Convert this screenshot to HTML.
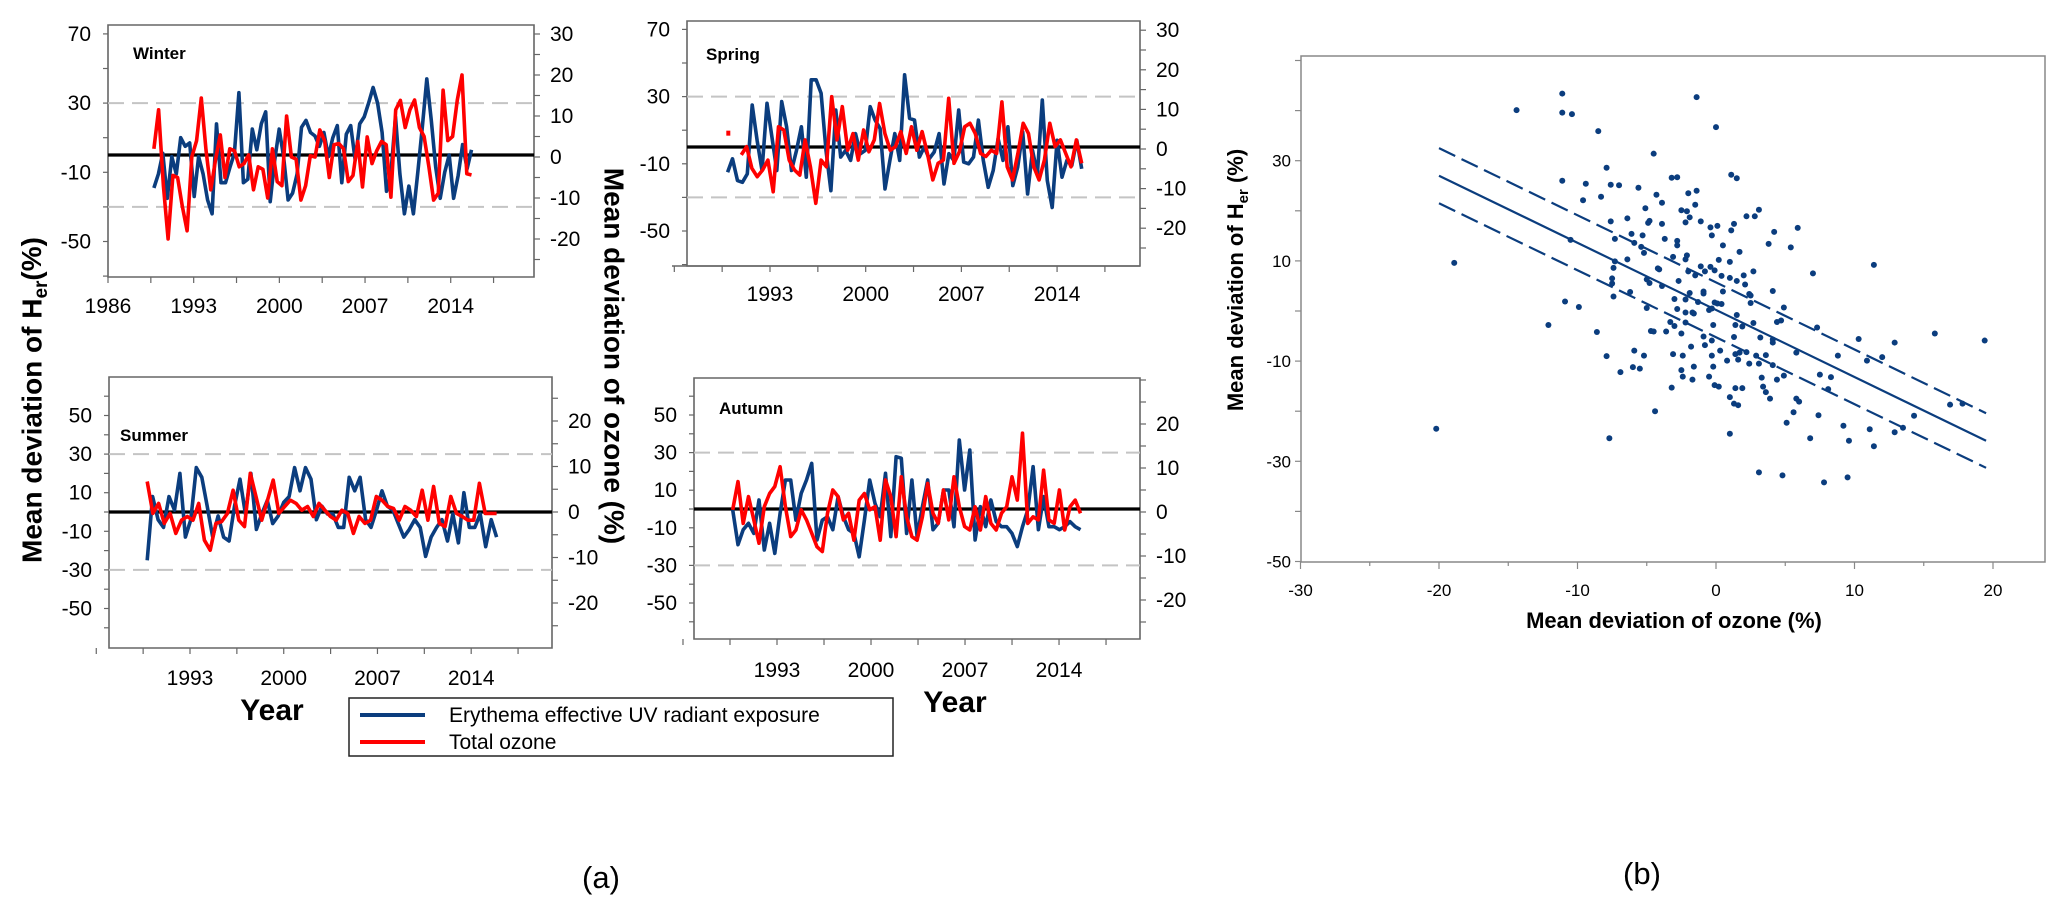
<!DOCTYPE html>
<html><head><meta charset="utf-8"><title>Seasonal UV and ozone deviations</title>
<style>
html,body{margin:0;padding:0;background:#fff;}
svg{display:block;font-family:"Liberation Sans",Arial,sans-serif;}
</style></head>
<body>
<svg id="fig" width="2067" height="912" viewBox="0 0 2067 912" xmlns="http://www.w3.org/2000/svg">
<rect x="0" y="0" width="2067" height="912" fill="#fff"/>
<g id="layer"></g>
<text transform="translate(34,400) rotate(-90)" text-anchor="middle" dominant-baseline="middle" font-size="28" font-weight="bold">Mean deviation of  H<tspan font-size="19" dy="8">er</tspan><tspan dy="-8">(%)</tspan></text>
<text transform="translate(612,356) rotate(90)" text-anchor="middle" dominant-baseline="middle" font-size="28" font-weight="bold">Mean deviation of ozone (%)</text>
<text x="272" y="720" text-anchor="middle" font-size="30" font-weight="bold">Year</text>
<text x="955" y="712" text-anchor="middle" font-size="30" font-weight="bold">Year</text>
<g>
<rect x="349" y="698" width="544" height="58" fill="#fff" stroke="#222" stroke-width="1.5"/>
<line x1="360" y1="715" x2="425" y2="715" stroke="#0b3d7e" stroke-width="4"/>
<text x="449" y="722" font-size="21">Erythema effective UV radiant exposure</text>
<line x1="360" y1="742" x2="425" y2="742" stroke="#ff0000" stroke-width="4"/>
<text x="449" y="749" font-size="21">Total ozone</text>
</g>
<text x="601" y="888" text-anchor="middle" font-size="31">(a)</text>
<text x="1642" y="884" text-anchor="middle" font-size="31">(b)</text>
<text x="1674" y="628" text-anchor="middle" font-size="22" font-weight="bold">Mean deviation of ozone (%)</text>
<text transform="translate(1243,280) rotate(-90)" text-anchor="middle" font-size="22" font-weight="bold">Mean deviation of H<tspan font-size="15" dy="5">er</tspan><tspan dy="-5"> (%)</tspan></text>
</svg>
<script>
// ---------- Time series data (blue: UV % on left axis, red: ozone % on right axis) ----------
const winterUV = [-19,-11,1,-25,-1,-11,10,5,7,-24,-1,-11,-26,-34,18,-16,-16,-7,1,36,-16,-14,15,3,18,25,-27,-3,15,-1,-26,-22,-11,16,20,13,11,5,13,-1,10,17,-16,12,17,-3,18,22,30,39,30,13,-21,-10,22,-11,-34,-18,-34,-10,16,44,20,-7,-25,-10,0,-25,-12,6,-8,3];
const winterO3 = [2,11.5,-7,-20,-4.5,-5,-12,-18,0,4,14.4,1.7,-8,-0.7,5.4,-5,2,1.5,-2.4,-1.6,0.5,-8,-2.4,-3,-10,2,-6,-7,10,0,-0.5,-10.5,-7,0.3,0,6.6,4,-5,3,3.3,2,-6,-4.5,3.8,-7.3,4.9,-1.6,1.5,3.8,3,-9.8,11.5,13.8,7.2,11.5,13.9,7.2,5,-2.4,-10.5,-8.8,16.3,4,5,13.9,20,-4.1,-4.4];
const springUV = [-15,-7,-20,-21,-16,25,4,-14,26,6,-14,27,12,-14,-2,12,-18,40,40,32,-2,-26,22,-6,-2,-8,8,-4,-2,24,16,11,-25,-8,8,-8,43,17,16,-6,0,-7,-3,8,-22,-4,-8,22,-9,-10,-6,16,-8,-24,-14,5,-8,12,-23,-12,9,-28,-2,-16,28,-20,-36,4,-18,-8,-11,4,-13];
const springO3 = [-1.5,0.6,-4.9,-7,-5.3,-2.8,-10.8,5.6,4.8,-2.8,-5.3,-6.6,2.3,-4.5,-13.7,-2.8,-4.5,13.2,2.3,10.7,-0.3,3.9,-2.8,4.8,-0.7,2.3,11.5,3.9,-0.3,0.6,4.4,-1.1,5.6,-0.3,4.4,-1.1,-7.8,-3.6,-2.8,12.8,-3.6,-0.7,5.6,6.5,3.9,-1.1,-1.9,-0.3,-1.1,11.9,-4.5,-7.8,-1.1,6.5,3.9,-4.5,-7.8,-2.8,6.5,0.6,2.3,-1.1,-4.5,2.3,-3.6];
const springO3Isolated = [4];
const summerUV = [-25,8,-4,-8,8,1,20,-13,-4,23,18,3,-13,-2,-13,-15,3,17,-1,20,-9,-1,6,-6,-2,5,8,23,11,23,17,-4,3,-1,-1,-8,-8,18,11,18,-4,-8,1,11,3,1,-6,-13,-9,-4,-8,-23,-13,-8,-4,-15,-1,-16,10,-8,-8,-1,-18,-4,-13];
const summerO3 = [6.7,-0.3,1.9,-2.5,-0.3,-4.7,-1.8,-1,-1.8,1.9,-6.2,-8.4,-2.5,-2.1,-0.3,4.8,-1.8,-3.2,8.5,3.4,-1.8,2.6,7,-0.3,1.2,2.6,1.9,0.4,1.2,-1,1.9,0.4,-1,-1.8,0.4,-0.3,-4.7,-1,-2.5,-1.8,3.4,2.6,1.2,0.8,-1.8,1.2,0.4,-1,4.8,-1.8,5.6,-2.5,-3.2,3.4,-0.3,-1,-1.8,-1.8,6.3,-0.3,-0.3,-0.3];
const autumnUV = [-0.5,-19,-11,-7.6,-13,4.8,-21.8,-7.6,-23.6,-2.3,15.4,15.4,-5.9,8.3,15.4,24.3,-16.5,-5.9,-4.1,-11,6.6,-4.1,-11,-13,-25.4,-5.9,15.4,3,-4.1,19,-14.7,27.8,27,-13,15.4,-14.7,1.2,15.4,-11,-7.6,10.1,10.1,-9.4,36.7,10.1,31.4,-16.5,1.2,-9.4,4.8,-6.7,-9.4,-9.4,-13,-20,-9.4,-0.5,22.5,-11,6.6,-9.4,-9.4,-11,-9.4,-6.7,-9.4,-11];
const autumnO3 = [0.5,6.9,-2.6,3.5,-1.8,-7.1,1.2,4.2,5.8,10.3,1.2,-5.6,-4.1,0.5,-1.8,-4.8,-7.9,-9,-0.3,5,3.5,-1.8,-0.3,-6.4,2.7,4.2,0.5,1.2,-6.4,7.3,3.5,-5.6,8,-1.1,-5.6,-6.4,-1.1,6.5,-0.3,-2.6,5,-1.8,8,1.2,-3.3,-4.1,1.2,-4.1,3.5,-2.6,-4.1,-0.3,1.2,8,2.7,17.9,-2.6,-1.1,-1.8,9.5,-1.8,-2.6,5,-4.1,1.2,2.7,-0.3];
// series year spans [start, end]
const winterSpan = [1989.75, 2015.7];
const springSpanUV = [1989.9, 2015.8];
const springSpanO3 = [1990.9, 2015.8];
const springIsolatedYear = [1989.95];
const summerSpan = [1989.8, 2015.9];
const autumnSpan = [1989.7, 2015.6];
// tick labels
const leftTicksTop = [70,30,-10,-50];
const leftTicksBottom = [50,30,10,-10,-30,-50];
const rightTicksTop = [30,20,10,0,-10,-20];
const rightTicksBottom = [20,10,0,-10,-20];
const yearTicksWinter = [1986,1993,2000,2007,2014];
const yearTicks = [1993,2000,2007,2014];
const dashLevels = [30,-30];

// ---------- Scatter data ----------
const ozoneDev = [-11.1,-14.4,-11.1,-10.4,-8.5,0,-1.4,-4.5,-7.9,1.1,1.5,-3.2,-2.8,-11.1,-9.4,-7.6,-7,-5.6,-1.4,-2,-4.3,-8.3,-9.6,-3.9,-1.5,-5.1,-2.5,-2.1,3.1,2.2,2.8,-6.4,-4.8,-4.9,-1.9,-7.6,-2.2,-3.9,-1.1,1.3,-0.4,0.1,5.9,4.2,-6.1,-5.3,-7.3,-3.7,-10.5,-0.3,-2.8,-5.9,-5.4,3.8,5.4,1.1,0.5,-2.8,1.7,-5.2,-3.1,-2.1,-2.2,-6.4,0.2,1,-7.3,-18.9,11.4,7,-1.1,-0.4,-7.4,-4.2,-4.1,-2,-0.8,-0.1,-1.5,2.7,2,1,-7.5,-5,-7.5,-2.7,1.5,-4.8,2.1,0.4,-3.9,0.5,-0.9,-0.9,-1.9,2.4,2.5,-7.4,-6.2,4.1,-2.2,-3,-1.3,-0.1,0.1,0.4,2.5,-10.9,-9.9,-5,4.9,-0.3,-0.5,-1.6,1.5,-2.8,-2.2,-1.7,-12.1,-3.3,-3,-2.2,-0.2,1.4,1.9,2.7,4.4,4.7,7.3,-8.6,-4.7,-4.5,-3.6,-2.5,-0.9,-0.3,1.3,3.2,4.1,4.1,10.3,15.8,19.4,12.9,-1.8,-0.8,0.3,1.4,1.7,2.2,2.9,3.6,5.8,8.8,12,10.9,-7.9,-5.2,-5.9,-3.1,-2.4,-0.3,0.8,1.6,3.1,4.1,-6,-5.5,-6.9,-1.6,-0.2,2.4,4.9,4.4,7.5,8.3,8.1,-2.5,-2.4,-1.7,-0.5,-0.1,0.2,1.4,1.9,3.3,3.4,3.6,3.9,-3.2,1,1.3,1.6,5.8,6,5.6,7.4,5.1,-4.4,9.2,11.1,12.9,13.5,14.3,16.9,17.8,6.8,9.6,11.4,-20.2,-7.7,1,3.1,4.8,7.8,9.5];
const uvDev = [43.4,40.1,39.6,39.3,35.9,36.7,42.7,31.4,28.6,27.2,26.5,26.6,26.7,26,25.4,25.2,25.1,24.6,24,23.5,23.2,22.8,22.1,21.6,21.2,20.5,20.1,19.9,20.2,18.9,18.9,18.5,18,17.6,18.7,17.9,17.7,17.4,17.9,17.4,16.7,17,16.6,15.8,15.4,15.1,14.4,14.4,14.2,15.1,14,13.6,12.8,13.4,12.7,16.1,13.1,13.1,11.8,11.6,10.8,11.1,10.3,10.3,10.2,9.8,9.9,9.6,9.2,7.5,8.9,8.8,8.6,8.5,8.3,7.9,7.9,8.1,7.1,7.9,7.1,6.6,6.5,6.3,5.5,6,6,5.6,5.3,7,5,3.9,3.9,3.5,3.6,3.4,3.1,2.9,3.8,4,2.3,2.4,1.8,1.7,1.5,1.4,1.6,1.9,0.8,0.6,0.7,0.5,0.2,-0.5,-0.8,0.4,-0.3,-0.3,-2.8,-2.2,-3,-2.3,-2.8,-2.8,-3.1,-2.4,-2.2,-1.9,-3.3,-4.2,-4,-4.1,-4.1,-4.5,-5.1,-5.9,-5.2,-5.3,-5.7,-6.3,-5.6,-4.5,-5.9,-6.3,-7.1,-6.8,-7.9,-8.6,-8.3,-8.2,-8.9,-8.8,-8.3,-8.9,-9.2,-9.9,-9,-8.9,-7.9,-8.6,-8.9,-8.9,-9.9,-9.7,-10.5,-10.8,-11.2,-11.5,-12.2,-11.1,-11.1,-10.5,-12.9,-13.7,-12.7,-13.2,-15.6,-11.8,-13.1,-13.7,-13.1,-14.8,-15.1,-15.4,-15.4,-13.3,-15.1,-16.2,-17.5,-15.3,-17.2,-18.5,-18.8,-17.5,-18.1,-20.2,-20.8,-22.3,-20,-22.9,-23.6,-24.2,-23.3,-20.9,-18.7,-18.5,-25.4,-25.9,-27,-23.5,-25.4,-24.5,-32.2,-32.8,-34.2,-33.2];
const fitX = [-20, 19.5];
const fitY = [27, -25.9];
const upperY = [32.5, -20.4];
const lowerY = [21.5, -31.3];
const scatterXTicks = [-30,-20,-10,0,10,20];
const scatterYTicks = [30,10,-10,-30,-50];

// ---------- drawing ----------
const NS = 'http://www.w3.org/2000/svg';
const layer = document.getElementById('layer');
function mk(tag, attrs, parent) {
  const e = document.createElementNS(NS, tag);
  for (const k in attrs) e.setAttribute(k, attrs[k]);
  (parent || layer).appendChild(e);
  return e;
}
const BLUE = '#0b3d7e', RED = '#ff0000', AX = '#666';

function panel(cfg) {
  const g = mk('g', {});
  
  
  const X = yr => cfg.x0 + (yr - cfg.yr0) * cfg.pxYr;
  const YL = v => cfg.zl - v * cfg.kl;
  const YR = v => cfg.zr - v * cfg.kr;
  // frame
  const fr = mk('path', {d: `M${cfg.L},${cfg.B} L${cfg.L},${cfg.T} L${cfg.R},${cfg.T} L${cfg.R},${cfg.B} Z`, fill: 'none', stroke: AX, 'stroke-width': 1.6}, g);
  
  
  // dashed reference lines
  dashLevels.forEach(d => {
    const l = mk('line', {x1: cfg.L, x2: cfg.R, y1: YL(d), y2: YL(d), stroke: '#c4c4c4', 'stroke-width': 2, 'stroke-dasharray': '16,8'}, g);
    
    
  });
  // left ticks
  const lt = cfg.leftTicks;
  const step = lt[0] - lt[1];
  for (let v = lt[lt.length - 1] - step / 2; v <= lt[0] + step / 2 + 0.01; v += step / 2) {
    const y = YL(v);
    if (y < cfg.T - 1 || y > cfg.B + 1) continue;
    mk('line', {x1: cfg.L - 5, x2: cfg.L, y1: y, y2: y, stroke: AX, 'stroke-width': 1.2}, g);
  }
  lt.forEach(v => {
    const t = mk('text', {x: cfg.L - 17, y: YL(v) + 7, 'text-anchor': 'end', 'font-size': 21}, g);
    t.textContent = v;
    
    
  });
  // right ticks
  const rt = cfg.rightTicks;
  for (let v = -25; v <= 30; v += 5) {
    const y = YR(v);
    if (y < cfg.T - 1 || y > cfg.B + 1) continue;
    mk('line', {x1: cfg.R, x2: cfg.R + 6, y1: y, y2: y, stroke: AX, 'stroke-width': 1.2}, g);
  }
  rt.forEach(v => {
    const t = mk('text', {x: cfg.R + 16, y: YR(v) + 7, 'text-anchor': 'start', 'font-size': 21}, g);
    t.textContent = v;
    
    
  });
  // x ticks
  for (let yr = cfg.yr0 - 14; yr <= 2025; yr += 3.5) {
    const x = X(yr);
    if (x < cfg.L - 16 || x > cfg.R + 1) continue;
    mk('line', {x1: x, x2: x, y1: cfg.B, y2: cfg.B + 6, stroke: AX, 'stroke-width': 1.2}, g);
  }
  if (cfg.axisExt) mk('line', {x1: cfg.axisExt, x2: cfg.R, y1: cfg.B, y2: cfg.B, stroke: AX, 'stroke-width': 1.6}, g);
  cfg.xTicks.forEach(yr => {
    const t = mk('text', {x: X(yr), y: cfg.xLabY, 'text-anchor': 'middle', 'font-size': 21}, g);
    t.textContent = yr;
    
    
  });
  // zero line
  const z = mk('line', {x1: cfg.L, x2: cfg.R, y1: YL(0), y2: YL(0), stroke: '#000', 'stroke-width': 3.2}, g);
  
  
  // series
  function series(vals, span, Y, color, nm) {
    const n = vals.length;
    const pts = vals.map((v, i) => X(span[0] + (span[1] - span[0]) * i / (n - 1)).toFixed(1) + ',' + Y(v).toFixed(1));
    const p = mk('polyline', {points: pts.join(' '), fill: 'none', stroke: color, 'stroke-width': 3.6, 'stroke-linejoin': 'round'}, g);
    
    
  }
  series(cfg.uv, cfg.uvSpan, YL, BLUE, 'uv-line');
  series(cfg.o3, cfg.o3Span, YR, RED, 'ozone-line');
  // title
  const tt = mk('text', {x: cfg.titleX, y: cfg.titleY, 'font-size': 17, 'font-weight': 'bold'}, g);
  tt.textContent = cfg.title;
  
  
  return {X, YR, g};
}

panel({name: 'winter', title: 'Winter', L: 108, R: 534, T: 25, B: 277, x0: 108, yr0: 1986, pxYr: 12.24,
  zl: 155, kl: 1.73, zr: 157, kr: 4.1, leftTicks: leftTicksTop, rightTicks: rightTicksTop, xTicks: yearTicksWinter,
  xLabY: 313, uv: winterUV, uvSpan: winterSpan, o3: winterO3, o3Span: winterSpan, titleX: 133, titleY: 59});
const sp = panel({name: 'spring', title: 'Spring', L: 687, R: 1140, T: 21, B: 266, x0: 770, yr0: 1993, pxYr: 13.67,
  zl: 147, kl: 1.68, zr: 149, kr: 3.96, leftTicks: leftTicksTop, rightTicks: rightTicksTop, xTicks: yearTicks,
  xLabY: 301, uv: springUV, uvSpan: springSpanUV, o3: springO3, o3Span: springSpanO3, titleX: 706, titleY: 60, axisExt: 672});
springO3Isolated.forEach((v, i) => {
  const r = mk('rect', {x: sp.X(springIsolatedYear[i]) - 2, y: sp.YR(v) - 2.5, width: 4, height: 5, fill: RED}, sp.g);
  
  
});
panel({name: 'summer', title: 'Summer', L: 109, R: 552, T: 377, B: 648, x0: 190, yr0: 1993, pxYr: 13.39,
  zl: 512, kl: 1.93, zr: 512, kr: 4.55, leftTicks: leftTicksBottom, rightTicks: rightTicksBottom, xTicks: yearTicks,
  xLabY: 685, uv: summerUV, uvSpan: summerSpan, o3: summerO3, o3Span: summerSpan, titleX: 120, titleY: 441});
panel({name: 'autumn', title: 'Autumn', L: 694, R: 1140, T: 378, B: 639, x0: 777, yr0: 1993, pxYr: 13.43,
  zl: 509, kl: 1.88, zr: 512, kr: 4.4, leftTicks: leftTicksBottom, rightTicks: rightTicksBottom, xTicks: yearTicks,
  xLabY: 677, uv: autumnUV, uvSpan: autumnSpan, o3: autumnO3, o3Span: autumnSpan, titleX: 719, titleY: 414});

// scatter plot
(function () {
  const g = mk('g', {});
  
  
  const L = 1301, R = 2045, T = 56, B = 562;
  const SX = v => 1716 + v * 13.85;
  const SY = v => 311 - v * 5.01;
  const f = mk('path', {d: `M${L},${B} L${L},${T} L${R},${T} L${R},${B} Z`, fill: 'none', stroke: '#888', 'stroke-width': 1.5}, g);
  
  
  for (let v = -50; v <= 50; v += 10) {
    const y = SY(v); if (y < T || y > B) continue;
    mk('line', {x1: L - 6, x2: L, y1: y, y2: y, stroke: '#888', 'stroke-width': 1.2}, g);
  }
  for (let v = -30; v <= 22; v += 5) {
    const x = SX(v);
    mk('line', {x1: x, x2: x, y1: B, y2: B + (v % 10 === 0 ? 7 : 4), stroke: '#888', 'stroke-width': 1.2}, g);
  }
  scatterYTicks.forEach(v => {
    const t = mk('text', {x: L - 10, y: SY(v) + 6, 'text-anchor': 'end', 'font-size': 17}, g);
    t.textContent = v;
    
    
  });
  scatterXTicks.forEach(v => {
    const t = mk('text', {x: SX(v), y: 596, 'text-anchor': 'middle', 'font-size': 17}, g);
    t.textContent = v;
    
    
  });
  ozoneDev.forEach((v, i) => {
    const c = mk('circle', {cx: SX(v), cy: SY(uvDev[i]), r: 3, fill: BLUE}, g);
    
    
  });
  const fl = mk('line', {x1: SX(fitX[0]), y1: SY(fitY[0]), x2: SX(fitX[1]), y2: SY(fitY[1]), stroke: BLUE, 'stroke-width': 2.2}, g);
  
  
  const ul = mk('line', {x1: SX(fitX[0]), y1: SY(upperY[0]), x2: SX(fitX[1]), y2: SY(upperY[1]), stroke: BLUE, 'stroke-width': 2.2, 'stroke-dasharray': '18,7'}, g);
  
  
  const ll = mk('line', {x1: SX(fitX[0]), y1: SY(lowerY[0]), x2: SX(fitX[1]), y2: SY(lowerY[1]), stroke: BLUE, 'stroke-width': 2.2, 'stroke-dasharray': '18,7'}, g);
  
  
})();
</script>
</body></html>
